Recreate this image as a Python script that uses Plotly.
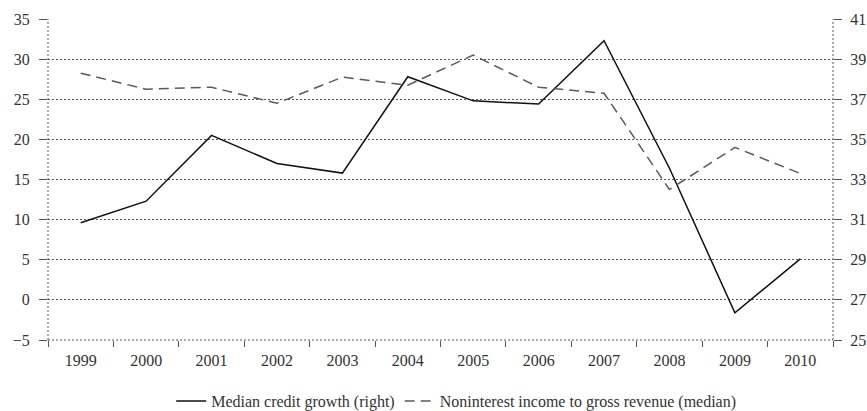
import plotly.graph_objects as go

years = ["1999", "2000", "2001", "2002", "2003", "2004", "2005", "2006", "2007", "2008", "2009", "2010"]
credit_growth = [9.6, 12.3, 20.5, 17.0, 15.8, 27.8, 24.8, 24.4, 32.3, 16.4, -1.6, 5.1]
nonint_income = [38.3, 37.5, 37.6, 36.8, 38.1, 37.7, 39.2, 37.6, 37.3, 32.5, 34.6, 33.3]

left_ticks = [-5, 0, 5, 10, 15, 20, 25, 30, 35]
right_ticks = [25, 27, 29, 31, 33, 35, 37, 39, 41]

font = dict(family="Liberation Serif", size=16, color="#333")
dotline = dict(color="#555", width=1, dash="2px,2px")

fig = go.Figure()
fig.add_trace(go.Scatter(
    x=years, y=credit_growth, mode="lines", name="Median credit growth (right)",
    line=dict(color="#111", width=1.5), yaxis="y"))
fig.add_trace(go.Scatter(
    x=years, y=nonint_income, mode="lines", name="Noninterest income to gross revenue (median)",
    line=dict(color="#5a5a5a", width=1.5, dash="10px,6px"), yaxis="y2"))

fig.update_layout(
    template="none",
    width=867, height=411,
    margin=dict(l=48, r=34, t=19, b=71, autoexpand=False),
    paper_bgcolor="white", plot_bgcolor="white",
    font=font,
    showlegend=True,
    legend=dict(orientation="h", x=0.52, xanchor="center", y=-0.19, yanchor="middle",
                font=font, itemwidth=30, tracegroupgap=0, bgcolor="rgba(0,0,0,0)"),
    xaxis=dict(type="category", range=[-0.5, 11.5], showgrid=False, zeroline=False,
               showline=False, ticks="outside", tickson="boundaries", ticklen=6,
               tickcolor="#555", tickfont=font, ticklabelstandoff=9, automargin=False),
    yaxis=dict(range=[-5, 35], tickvals=left_ticks, showgrid=True, gridcolor="#555",
               griddash="2px,2px", gridwidth=1, zeroline=False, showline=False,
               ticks="outside", ticklen=8, tickcolor="#555", tickfont=font,
               ticklabelstandoff=6, automargin=False),
    yaxis2=dict(range=[25, 41], tickvals=right_ticks, overlaying="y", side="right",
                showgrid=False, zeroline=False, showline=False,
                ticks="outside", ticklen=8, tickcolor="#555", tickfont=font,
                ticklabelstandoff=5, automargin=False),
    shapes=[
        dict(type="line", xref="paper", yref="paper", x0=0, x1=0, y0=0, y1=1, line=dotline),
        dict(type="line", xref="paper", yref="paper", x0=1, x1=1, y0=0, y1=1, line=dotline),
        dict(type="line", xref="paper", yref="paper", x0=0, x1=1, y0=0, y1=0, line=dotline),
    ],
)

fig.write_html(
    "out.html",
    config={"displayModeBar": False},
    post_script="document.body.style.margin='0';document.documentElement.style.overflow='hidden';document.body.style.overflow='hidden';",
)
